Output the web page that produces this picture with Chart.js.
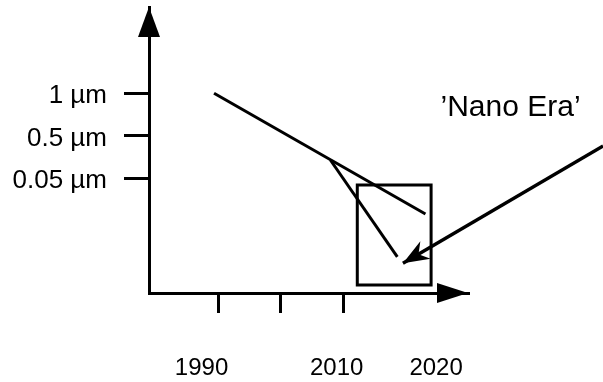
<!DOCTYPE html>
<html>
<head>
<meta charset="utf-8">
<script src="https://cdn.jsdelivr.net/npm/chart.js@4.4.1/dist/chart.umd.min.js"></script>
<style>
    html, body { margin: 0; padding: 0; background: #fff; }
</style>
</head>
<body>
<canvas id="graficoNano" width="603" height="382"></canvas>
<script>
// feature size axis
const sizeLabels = ['0.05 µm', '0.5 µm', '1 µm'];
const sizeTicks = [3, 4, 5];

// time axis: tick marks, and the year labels written under it
const yearTicks = [1990, 2000, 2010];
const yearLabels = ['1990', '2010', '2020'];
const yearLabelAt = [1987.3, 2008.9, 2024.8];

// trend line, and the steeper branch that splits off it
const trendYears = [1989.3, 2023.1];
const trendSize = [5.0, 2.16];
const branchYears = [2007.9, 2018.6];
const branchSize = [3.43, 1.15];

// box round the end of the branch
const boxYears = [2012.2, 2024.0];
const boxSize = [0.49, 2.84];

// callout
const eraLabel = '’Nano Era’';
const eraLabelAt = [2036.7, 4.46];
const pointerYears = [2051.5, 2019.5];
const pointerSize = [3.76, 1.0];

const FONT = "'Liberation Sans', Arial, sans-serif";

const toPoints = (xs, ys) => xs.map((x, i) => ({ x: x, y: ys[i] }));

const boxPoints = [
    { x: boxYears[0], y: boxSize[0] },
    { x: boxYears[0], y: boxSize[1] },
    { x: boxYears[1], y: boxSize[1] },
    { x: boxYears[1], y: boxSize[0] },
    { x: boxYears[0], y: boxSize[0] }
];

// keep the plot area where the fixed widths put it
const noPadding = s => { s.paddingTop = 0; s.paddingBottom = 0; s.paddingLeft = 0; s.paddingRight = 0; };

const extras = {
    id: 'extras',
    afterDraw(chart) {
        const { ctx, chartArea: a, scales: { x, y } } = chart;
        ctx.save();
        ctx.fillStyle = '#000';

        // axis arrowheads
        ctx.beginPath();
        ctx.moveTo(a.left, a.top);
        ctx.lineTo(a.left - 11, a.top + 30);
        ctx.lineTo(a.left + 11, a.top + 30);
        ctx.closePath();
        ctx.fill();

        ctx.beginPath();
        ctx.moveTo(a.right, a.bottom);
        ctx.lineTo(a.right - 31, a.bottom - 10);
        ctx.lineTo(a.right - 31, a.bottom + 10);
        ctx.closePath();
        ctx.fill();

        // pointer head
        const fx = x.getPixelForValue(pointerYears[0]), fy = y.getPixelForValue(pointerSize[0]);
        const tx = x.getPixelForValue(pointerYears[1]), ty = y.getPixelForValue(pointerSize[1]);
        const ang = Math.atan2(fy - ty, fx - tx);
        const wing = 28, spread = 0.37, notch = 18;
        ctx.beginPath();
        ctx.moveTo(tx, ty);
        ctx.lineTo(tx + wing * Math.cos(ang - spread), ty + wing * Math.sin(ang - spread));
        ctx.lineTo(tx + notch * Math.cos(ang), ty + notch * Math.sin(ang));
        ctx.lineTo(tx + wing * Math.cos(ang + spread), ty + wing * Math.sin(ang + spread));
        ctx.closePath();
        ctx.fill();

        // callout text
        ctx.font = '30px ' + FONT;
        ctx.textAlign = 'center';
        ctx.textBaseline = 'alphabetic';
        ctx.fillText(eraLabel, x.getPixelForValue(eraLabelAt[0]), y.getPixelForValue(eraLabelAt[1]));
        ctx.restore();
    }
};

document.addEventListener('DOMContentLoaded', function(){
    const ctx = document.getElementById('graficoNano').getContext('2d');
    new Chart(ctx, {
        type: 'line',
        data: {
            datasets: [{
                data: toPoints(trendYears, trendSize),
                borderColor: '#000',
                borderWidth: 3
            }, {
                data: toPoints(branchYears, branchSize),
                borderColor: '#000',
                borderWidth: 3
            }, {
                data: boxPoints,
                borderColor: '#000',
                borderWidth: 3,
                borderJoinStyle: 'miter',
                borderCapStyle: 'square'
            }, {
                data: toPoints(pointerYears, pointerSize),
                borderColor: '#000',
                borderWidth: 3.5,
                clip: false
            }]
        },
        options: {
            responsive: false,
            animation: false,
            layout: { padding: { left: 0, right: 135, top: 7, bottom: 0 } },
            elements: { point: { radius: 0, hoverRadius: 0 }, line: { tension: 0, fill: false } },
            plugins: { legend: { display: false }, tooltip: { enabled: false } },
            scales: {
                x: {
                    type: 'linear',
                    min: 1978.9,
                    max: 2029.9,
                    afterBuildTicks: s => { s.ticks = yearTicks.map(v => ({ value: v })); },
                    afterFit: s => { s.height = 20; noPadding(s); },
                    ticks: { display: false },
                    grid: { drawOnChartArea: false, drawTicks: true, tickLength: 20, color: '#000', lineWidth: 3 },
                    border: { display: true, color: '#000', width: 3 }
                },
                years: {
                    type: 'linear',
                    position: 'bottom',
                    min: 1978.9,
                    max: 2029.9,
                    afterBuildTicks: s => { s.ticks = yearLabelAt.map(v => ({ value: v })); },
                    afterFit: s => { s.height = 69; noPadding(s); },
                    ticks: {
                        callback: (v, i) => yearLabels[i],
                        autoSkip: false,
                        maxRotation: 0,
                        padding: 41,
                        color: '#000',
                        font: { family: FONT, size: 24 }
                    },
                    grid: { display: false, drawTicks: false },
                    border: { display: false }
                },
                y: {
                    type: 'linear',
                    min: 0.3,
                    max: 7.03,
                    afterBuildTicks: s => { s.ticks = sizeTicks.map(v => ({ value: v })); },
                    afterFit: s => { s.width = 149; noPadding(s); },
                    ticks: {
                        callback: (v, i) => sizeLabels[i],
                        padding: 17,
                        labelOffset: 3,
                        color: '#000',
                        font: { family: FONT, size: 26 }
                    },
                    grid: { drawOnChartArea: false, tickLength: 25, color: '#000', lineWidth: 3 },
                    border: { display: true, color: '#000', width: 3 }
                }
            }
        },
        plugins: [extras]
    });
});
</script>
</body>
</html>
